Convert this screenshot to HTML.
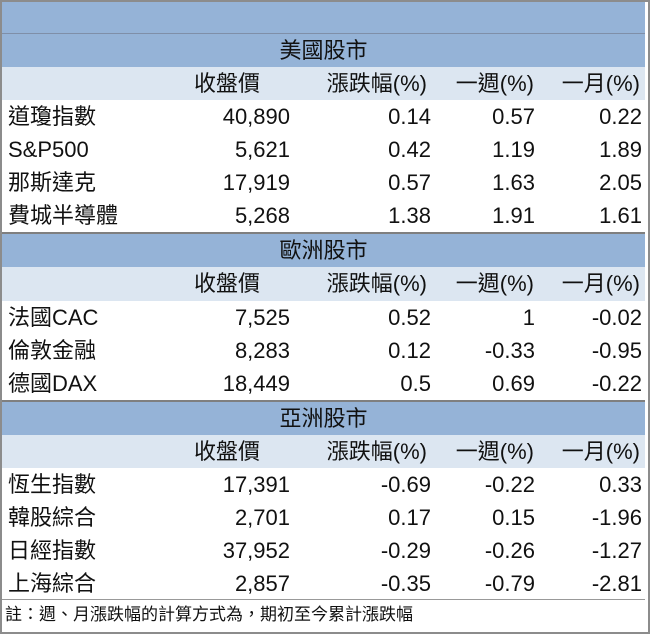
<!DOCTYPE html>
<html><head><meta charset="utf-8"><style>
body{margin:0;width:650px;height:634px;overflow:hidden;background:#fff;font-family:"Liberation Sans","Noto Sans CJK TC",sans-serif;}
#w{position:absolute;left:0;top:0;width:646px;height:630px;border:2px solid #8c8c8c;background:#fff;}
.r{position:absolute;left:0;width:643px;height:33px;font-size:22px;line-height:33px;color:#111;}
.b{background:#95b3d7;}
.h{background:#dce6f1;}
.r span{position:absolute;top:0;white-space:nowrap;}
.n{left:6px;}
.c1{right:355px;}.c2{right:214px;}.c3{right:110px;}.c4{right:3px;}
.h .c1{right:385px}.h .c2{right:218px}.h .c3{right:111px}.h .c4{right:5px}
.t{left:0;width:643px;text-align:center;}
.ln{position:absolute;left:0;width:643px;height:2px;background:#7f7f7f;}
.note{font-size:17px;}
</style></head><body><div id="w">
<div class="r b" style="top:0;height:31px"></div>
<div class="ln" style="top:31px;height:1px;background:#7f8fa8"></div>
<div class="r b" style="top:32px"><span class="t">美國股市</span></div>
<div class="r h" style="top:65px"><span class="c1">收盤價</span><span class="c2">漲跌幅(%)</span><span class="c3">一週(%)</span><span class="c4">一月(%)</span></div>
<div class="r" style="top:98px"><span class="n">道瓊指數</span><span class="c1">40,890</span><span class="c2">0.14</span><span class="c3">0.57</span><span class="c4">0.22</span></div>
<div class="r" style="top:131px"><span class="n">S&amp;P500</span><span class="c1">5,621</span><span class="c2">0.42</span><span class="c3">1.19</span><span class="c4">1.89</span></div>
<div class="r" style="top:164px"><span class="n">那斯達克</span><span class="c1">17,919</span><span class="c2">0.57</span><span class="c3">1.63</span><span class="c4">2.05</span></div>
<div class="r" style="top:197px"><span class="n">費城半導體</span><span class="c1">5,268</span><span class="c2">1.38</span><span class="c3">1.91</span><span class="c4">1.61</span></div>
<div class="ln" style="top:230px"></div>
<div class="r b" style="top:232px"><span class="t">歐洲股市</span></div>
<div class="r h" style="top:265px;height:34px"><span class="c1">收盤價</span><span class="c2">漲跌幅(%)</span><span class="c3">一週(%)</span><span class="c4">一月(%)</span></div>
<div class="r" style="top:299px"><span class="n">法國CAC</span><span class="c1">7,525</span><span class="c2">0.52</span><span class="c3">1</span><span class="c4">-0.02</span></div>
<div class="r" style="top:332px"><span class="n">倫敦金融</span><span class="c1">8,283</span><span class="c2">0.12</span><span class="c3">-0.33</span><span class="c4">-0.95</span></div>
<div class="r" style="top:365px"><span class="n">德國DAX</span><span class="c1">18,449</span><span class="c2">0.5</span><span class="c3">0.69</span><span class="c4">-0.22</span></div>
<div class="ln" style="top:398px"></div>
<div class="r b" style="top:400px"><span class="t">亞洲股市</span></div>
<div class="r h" style="top:433px"><span class="c1">收盤價</span><span class="c2">漲跌幅(%)</span><span class="c3">一週(%)</span><span class="c4">一月(%)</span></div>
<div class="r" style="top:466px"><span class="n">恆生指數</span><span class="c1">17,391</span><span class="c2">-0.69</span><span class="c3">-0.22</span><span class="c4">0.33</span></div>
<div class="r" style="top:499px"><span class="n">韓股綜合</span><span class="c1">2,701</span><span class="c2">0.17</span><span class="c3">0.15</span><span class="c4">-1.96</span></div>
<div class="r" style="top:532px"><span class="n">日經指數</span><span class="c1">37,952</span><span class="c2">-0.29</span><span class="c3">-0.26</span><span class="c4">-1.27</span></div>
<div class="r" style="top:565px"><span class="n">上海綜合</span><span class="c1">2,857</span><span class="c2">-0.35</span><span class="c3">-0.79</span><span class="c4">-2.81</span></div>
<div class="ln" style="top:597px;height:1px;background:#999"></div>
<div class="r note" style="top:598px;height:32px;line-height:30px"><span style="left:3px">註：週、月漲跌幅的計算方式為，期初至今累計漲跌幅</span></div>
</div></body></html>
